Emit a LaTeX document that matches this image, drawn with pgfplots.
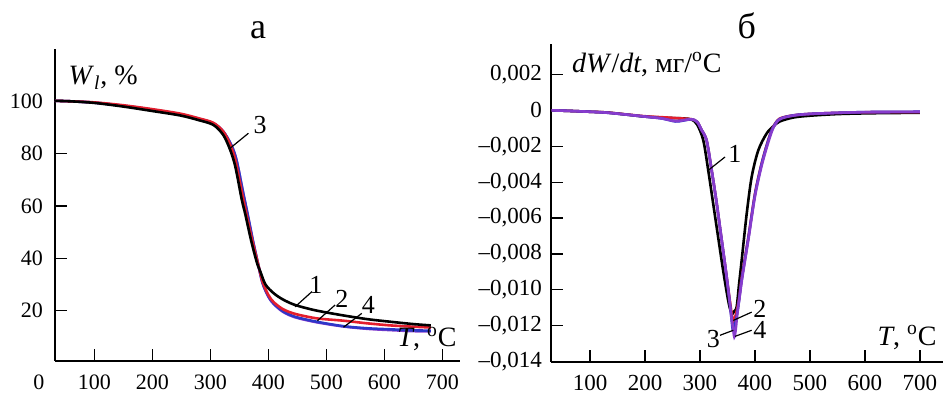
\documentclass[border=0pt]{standalone}
\usepackage{fontspec}
\setmainfont{Liberation Serif}
\usepackage{pgfplots}
\pgfplotsset{compat=1.18}
\definecolor{c1}{RGB}{0,0,0}
\definecolor{c2}{RGB}{228,30,45}
\definecolor{c3}{RGB}{45,55,200}
\definecolor{c4}{RGB}{135,60,205}
\pgfplotsset{
 myax/.style={
  scale only axis, anchor=south west,
  axis lines=left, axis line style={-, line width=1pt},
  tick align=inside, major tick length=6pt,
  every tick/.style={black, line width=0.6pt},
  /pgf/number format/assume math mode=true,
  xticklabel style={inner sep=0.5pt, yshift=-6.3pt},
  clip=false,
  every axis plot/.append style={line width=1.3pt, smooth, no markers},
 },
}
\tikzset{
 lab/.style={font=\fontsize{13}{15}\selectfont},
 axl/.style={font=\fontsize{14}{16}\selectfont, inner sep=0pt},
}
\begin{document}
\begin{tikzpicture}
\path[use as bounding box] (-27.5pt,-16.5pt) rectangle (444pt,180.5pt);
\node[anchor=base, font=\fontsize{18}{20}\selectfont] at (101.5pt,161pt) {а};
\node[anchor=base, font=\fontsize{18}{20}\selectfont] at (345.9pt,161pt) {б};
% ---------------- left panel
\begin{axis}[myax, at={(0pt,0pt)}, width=202.4pt, height=156pt,
  xmin=32, xmax=730, ymin=0.8, ymax=120,
  tick label style={font=\fontsize{11}{13}\selectfont},
  xtick={100,200,...,700}, ytick={20,40,60,80,100},
  yticklabel style={xshift=-2.5pt}]
\addplot[c4] coordinates {(32,100.2)(60,100.0)(100,99.5)(150,98.3)(200,96.8)(248,95.0)(280,93.3)(305,91.6)(322,88.5)(336,83.3)(345,77.5)(356,65.5)(364,57)(373,47)(382,38)(390,30.5)(400,25.3)(409,22.6)(425,19.6)(446,17.5)(483,15.6)(529,14.0)(570,13.1)(610,12.6)(650,12.2)(680,12.1)};
\addplot[c3] coordinates {(32,100.2)(60,100.0)(100,99.5)(150,98.3)(200,96.8)(248,95.0)(280,93.3)(305,91.6)(322,88.5)(336,83.3)(345,77.5)(356,65.5)(364,57)(373,47)(382,38)(390,30.5)(400,25.5)(409,22.8)(425,19.8)(446,17.7)(483,15.8)(529,14.1)(570,13.3)(610,12.9)(650,12.5)(680,12.4)};
\addplot[c2] coordinates {(32,100.2)(60,100.0)(100,99.6)(150,98.5)(200,97.0)(248,95.3)(280,93.5)(305,91.8)(322,88.5)(334,83.5)(343,77.5)(354,65.5)(362,57)(372,47)(382,38)(390,31)(400,26)(409,23.3)(425,20.6)(446,18.8)(483,17.1)(529,16.2)(570,15.2)(610,14.4)(650,13.9)(680,13.6)};
\addplot[c1] coordinates {(32,100.2)(60,100.0)(100,99.4)(150,98.0)(200,96.3)(248,94.6)(280,92.8)(305,91.0)(322,87.2)(334,81.5)(343,75)(354,62.5)(360,57)(370,47)(380,38.5)(386,35)(395,30)(409,26.7)(425,24.3)(446,22.2)(480,20.2)(524,18.4)(570,16.8)(610,15.8)(650,14.9)(680,14.4)};
\draw[line width=0.6pt] (axis cs:334,82.1) -- (axis cs:365.5,87.8);
\draw[line width=0.6pt] (axis cs:446,21.5) -- (axis cs:475,27.3);
\draw[line width=0.6pt] (axis cs:484.5,16.2) -- (axis cs:515,22.2);
\draw[line width=0.6pt] (axis cs:529.5,13.7) -- (axis cs:561,19);
\node[lab] at (axis cs:385.7,91) {3};
\node[lab] at (axis cs:482,29.8) {1};
\node[lab] at (axis cs:526.5,24.7) {2};
\node[lab] at (axis cs:572.5,22.2) {4};
\node[axl, anchor=base west] at (axis cs:54.7,106.3) {\textit{W}\textsubscript{\textit{l}}, \%};
\node[axl, anchor=base east] at (axis cs:725,6.2) {\textit{T}, \textsuperscript{o}C};
\node[anchor=north, inner sep=0.5pt, yshift=-6.3pt, font=\fontsize{11}{13}\selectfont] at (axis cs:4,0.8) {0};
\end{axis}
% ---------------- right panel
\begin{axis}[myax, at={(248pt,-0.35pt)}, width=196pt, height=158.9pt,
  xmin=29, xmax=742, ymin=-0.014, ymax=0.0037,
  tick label style={font=\fontsize{11.5}{13}\selectfont},
  xtick={100,200,...,700},
  ytick={-0.014,-0.012,-0.01,-0.008,-0.006,-0.004,-0.002,0,0.002},
  yticklabels={{–0,014},{–0,012},{–0,010},{–0,008},{–0,006},{–0,004},{–0,002},{0},{0,002}},
  scaled y ticks=false,
  yticklabel style={xshift=-1pt}]
\addplot[c1] coordinates {(30,0)(60,-0.00003)(100,-0.00008)(130,-0.00012)(170,-0.00025)(200,-0.00035)(240,-0.00042)(270,-0.00045)(285,-0.00052)(295,-0.0008)(306,-0.00167)(315,-0.00334)(324,-0.0052)(333,-0.00706)(342,-0.0089)(351,-0.01055)(356,-0.0112)(359,-0.01133)(362,-0.0112)(366.7,-0.01095)(371,-0.0097)(375.8,-0.00836)(385,-0.00575)(394,-0.00371)(406,-0.00223)(421,-0.0013)(433,-0.0009)(445,-0.00062)(470,-0.0004)(500,-0.0003)(550,-0.00021)(600,-0.00017)(650,-0.00015)(700,-0.00014)};
\addplot[c2] coordinates {(30,0)(60,-0.00003)(100,-0.00008)(130,-0.00012)(170,-0.00024)(200,-0.00033)(240,-0.0004)(265,-0.00045)(285,-0.0005)(295,-0.00065)(303,-0.0011)(312,-0.00167)(321,-0.0033)(330,-0.0051)(338,-0.0069)(346,-0.0087)(353,-0.0103)(358,-0.0114)(360.5,-0.0118)(363,-0.0116)(366.7,-0.0112)(371,-0.0105)(376,-0.0093)(388,-0.00706)(400,-0.00464)(412,-0.00297)(424,-0.00167)(433,-0.00093)(445,-0.00046)(470,-0.00028)(500,-0.0002)(550,-0.00014)(600,-0.00011)(650,-0.0001)(700,-0.0001)};
\addplot[c3] coordinates {(30,0)(60,-0.00003)(100,-0.00008)(130,-0.00013)(170,-0.00025)(200,-0.00035)(230,-0.00045)(255,-0.00062)(268,-0.00058)(285,-0.0005)(295,-0.00065)(303,-0.0011)(312,-0.00167)(321,-0.0033)(330,-0.0051)(338,-0.0069)(346,-0.0087)(353,-0.0104)(357,-0.0115)(359.5,-0.0122)(362,-0.0121)(366.7,-0.0115)(371,-0.0106)(376,-0.0094)(388,-0.0071)(400,-0.0047)(412,-0.0030)(424,-0.0017)(433,-0.00095)(445,-0.00048)(470,-0.00028)(500,-0.0002)(550,-0.00014)(600,-0.0001)(650,-0.00009)(700,-0.00008)};
\addplot[c4] coordinates {(30,0)(60,-0.00003)(100,-0.00008)(130,-0.00013)(170,-0.00025)(200,-0.00035)(230,-0.00045)(255,-0.0006)(268,-0.00056)(285,-0.0005)(295,-0.00065)(303,-0.0011)(312,-0.00167)(321,-0.0033)(330,-0.0051)(338,-0.0069)(346,-0.0087)(353,-0.0104)(357,-0.0115)(360,-0.0121)(362.5,-0.01262)(365,-0.0122)(368,-0.0113)(372,-0.0104)(377,-0.0093)(388,-0.0072)(400,-0.0048)(412,-0.0031)(424,-0.0018)(433,-0.001)(445,-0.0005)(470,-0.00029)(500,-0.0002)(550,-0.00014)(600,-0.0001)(650,-0.00009)(700,-0.00008)};
\draw[line width=0.6pt] (axis cs:315,-0.00334) -- (axis cs:345.5,-0.0026);
\draw[line width=0.6pt] (axis cs:360.6,-0.0117) -- (axis cs:394,-0.01124);
\draw[line width=0.6pt] (axis cs:336.4,-0.01253) -- (axis cs:360.6,-0.01225);
\draw[line width=0.6pt] (axis cs:363.6,-0.01259) -- (axis cs:394,-0.01225);
\node[lab] at (axis cs:363.6,-0.00241) {1};
\node[lab] at (axis cs:409,-0.01105) {2};
\node[lab] at (axis cs:324.2,-0.01272) {3};
\node[lab] at (axis cs:409,-0.01222) {4};
\node[axl, anchor=base west] at (axis cs:66.7,0.00213) {\textit{dW}/\textit{dt}, мг/\textsuperscript{o}C};
\node[axl, anchor=base east] at (axis cs:731,-0.01309) {\textit{T}, \textsuperscript{o}C};
\end{axis}
\end{tikzpicture}
\end{document}
